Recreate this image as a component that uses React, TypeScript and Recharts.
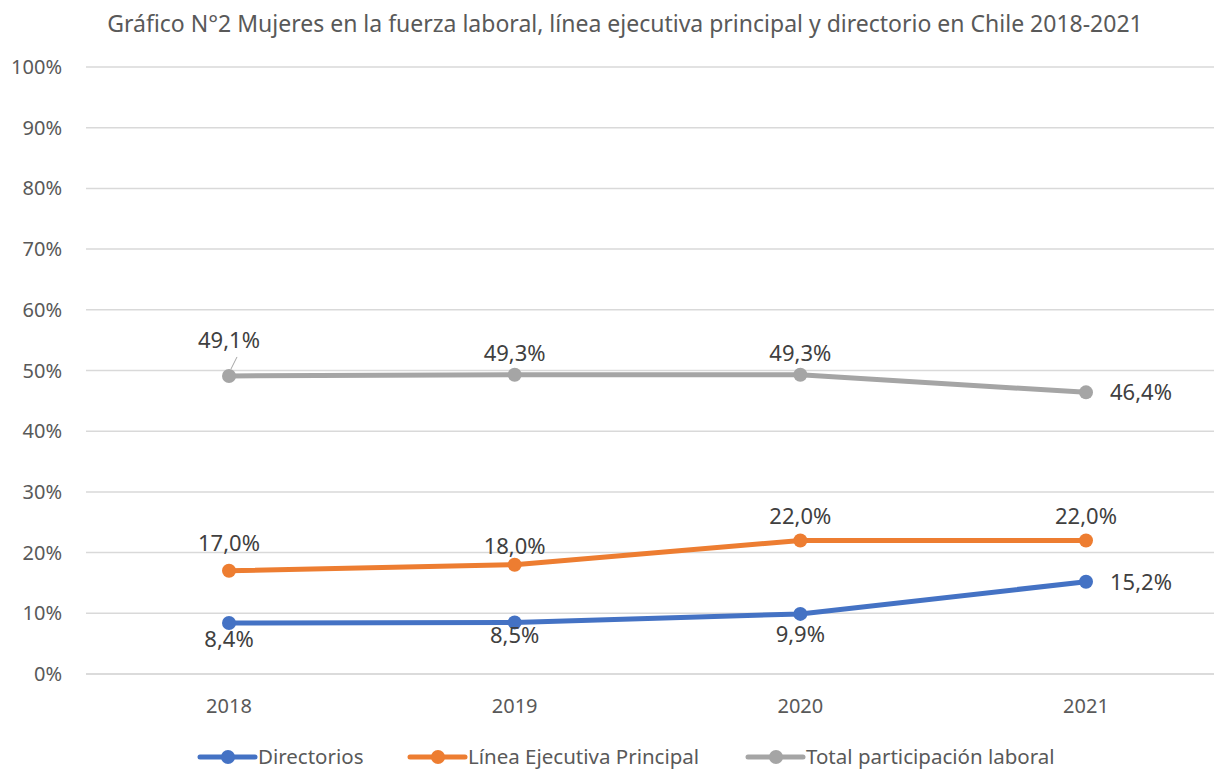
import React from 'react';
import { LineChart, Line, XAxis, YAxis, CartesianGrid, Legend, LabelList } from 'recharts';

const years = ['2018', '2019', '2020', '2021'];
const directorios = [8.4, 8.5, 9.9, 15.2];
const lineaEjecutiva = [17.0, 18.0, 22.0, 22.0];
const totalLaboral = [49.1, 49.3, 49.3, 46.4];
const yTicks = [0, 10, 20, 30, 40, 50, 60, 70, 80, 90, 100];

const data = years.map((year, i) => ({
  year,
  directorios: directorios[i],
  linea: lineaEjecutiva[i],
  total: totalLaboral[i],
}));

const FONT = '"Noto Sans", "Open Sans", sans-serif';
const TEXT = '#595959';

const series = [
  { key: 'directorios', name: 'Directorios', color: '#4472C4' },
  { key: 'linea', name: 'Línea Ejecutiva Principal', color: '#ED7D31' },
  { key: 'total', name: 'Total participación laboral', color: '#A5A5A5' },
];

const fmt = (v: number) => v.toFixed(1).replace('.', ',') + '%';

// label offsets per series/point: [dx, dy, anchor]
const labelPos: Record<string, Array<[number, number, string]>> = {
  directorios: [[0, 24, 'middle'], [0, 21, 'middle'], [0, 28, 'middle'], [24, 8, 'start']],
  linea: [[0, -20, 'middle'], [0, -11, 'middle'], [0, -16, 'middle'], [0, -16, 'middle']],
  total: [[0, -28, 'middle'], [0, -14, 'middle'], [0, -14, 'middle'], [24, 8, 'start']],
};

const makeLabel = (key: string) => (props: any) => {
  const { x, y, value, index } = props;
  const [dx, dy, anchor] = labelPos[key][index];
  return (
    <g>
      {key === 'total' && index === 0 && (
        <line x1={x + 2} y1={y - 7} x2={x + 8} y2={y - 19} stroke="#A5A5A5" strokeWidth={1} />
      )}
      <text x={x + dx} y={y + dy} textAnchor={anchor} fill="#404040" fontSize={22} fontFamily={FONT}>
        {fmt(value)}
      </text>
    </g>
  );
};

const YTick = (props: any) => {
  const { x, y, payload } = props;
  return (
    <text x={x - 16} y={y + 7} textAnchor="end" fill={TEXT} fontSize={20} fontFamily={FONT}>
      {payload.value}%
    </text>
  );
};

const XTick = (props: any) => {
  const { x, y, payload } = props;
  return (
    <text x={x} y={y + 31} textAnchor="middle" fill={TEXT} fontSize={20} fontFamily={FONT}>
      {payload.value}
    </text>
  );
};

const legendX = [200, 410, 748];

const LegendContent = () => (
  <svg width={1216} height={40} style={{ display: 'block' }}>
    {series.map((s, i) => (
      <g key={s.key}>
        <line x1={legendX[i]} y1={27} x2={legendX[i] + 55} y2={27} stroke={s.color} strokeWidth={5} strokeLinecap="round" />
        <circle cx={legendX[i] + 28} cy={27} r={7} fill={s.color} />
        <text x={legendX[i] + 58} y={34} fill={TEXT} fontSize={20.5} fontFamily={FONT}>
          {s.name}
        </text>
      </g>
    ))}
  </svg>
);

export default function App() {
  return (
    <div style={{ position: 'absolute', left: 0, top: 0, width: 1216, height: 770, background: '#fff' }}>
      <div
        style={{
          position: 'absolute',
          top: 7,
          left: 0,
          width: 1216,
          textAlign: 'center',
          paddingLeft: 34,
          boxSizing: 'border-box',
          fontFamily: FONT,
          fontSize: 23,
          color: TEXT,
          whiteSpace: 'nowrap',
        }}
      >
        Gráfico N°2 Mujeres en la fuerza laboral, línea ejecutiva principal y directorio en Chile 2018-2021
      </div>
      <LineChart width={1216} height={770} data={data} margin={{ top: 67, right: 2, bottom: 0, left: 0 }}>
        <CartesianGrid vertical={false} stroke="#D9D9D9" strokeWidth={1.5} />
        <XAxis
          dataKey="year"
          axisLine={{ stroke: '#D9D9D9', strokeWidth: 1.5 }}
          tickLine={false}
          tick={<XTick />}
          padding={{ left: 143, right: 128 }}
          height={56}
        />
        <YAxis
          domain={[0, 100]}
          ticks={yTicks}
          axisLine={false}
          tickLine={false}
          tick={<YTick />}
          width={86}
          interval={0}
        />
        <Legend verticalAlign="bottom" height={40} content={<LegendContent />} />
        {series.map((s) => (
          <Line
            key={s.key}
            dataKey={s.key}
            name={s.name}
            stroke={s.color}
            strokeWidth={5}
            dot={{ r: 7, fill: s.color, stroke: s.color, strokeWidth: 0 }}
            activeDot={false}
            isAnimationActive={false}
          >
            <LabelList dataKey={s.key} content={makeLabel(s.key)} />
          </Line>
        ))}
      </LineChart>
    </div>
  );
}
